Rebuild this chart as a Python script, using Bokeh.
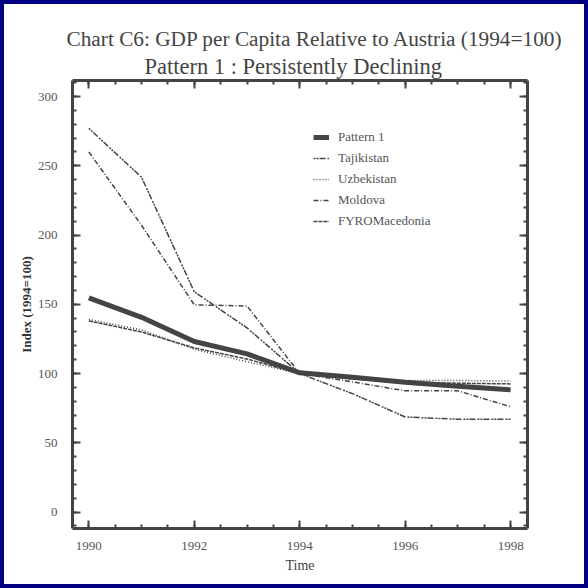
from bokeh.plotting import figure
from bokeh.models import (Range1d, LinearAxis, SingleIntervalTicker, Title, Legend,
                          LegendItem, CustomJSTickFormatter, ColumnDataSource)
from bokeh.embed import file_html
from bokeh.resources import INLINE

years = [1990, 1991, 1992, 1993, 1994, 1995, 1996, 1997, 1998]
pattern1 = [154.7, 140.6, 123.1, 114.2, 100.5, 97.3, 93.7, 90.8, 88.2]
tajikistan = [277.0, 241.7, 159.0, 133.0, 100.0, 85.5, 68.6, 67.0, 67.0]
uzbekistan = [139.0, 131.5, 117.5, 108.5, 100.0, 97.0, 95.0, 95.0, 94.5]
moldova = [260.0, 207.0, 149.6, 148.8, 100.0, 94.0, 87.5, 87.5, 76.0]
fyromacedonia = [138.0, 130.0, 118.5, 110.5, 100.0, 96.0, 94.0, 93.0, 92.5]

series_names = ["Pattern 1", "Tajikistan", "Uzbekistan", "Moldova", "FYROMacedonia"]
series_values = [pattern1, tajikistan, uzbekistan, moldova, fyromacedonia]

title_line1 = "Chart C6: GDP per Capita Relative to Austria (1994=100)"
title_line2 = "Pattern 1 : Persistently Declining"
x_label = "Time"
y_label = "Index (1994=100)"

FONT = "Liberation Serif"
AX = "#444444"
TXT = "#555555"

p = figure(width=588, height=588, output_backend="svg", toolbar_location=None,
           x_range=Range1d(1989.69, 1998.32), y_range=Range1d(-11.9, 311.6),
           min_border_left=68, min_border_right=65, min_border_top=76, min_border_bottom=64,
           background_fill_color="white", border_fill_color="white")
p.styles = {"border": "4px solid #000080", "box-sizing": "border-box"}
p.outline_line_color = None
p.grid.visible = False

def style_axis(ax, labels=True):
    ax.axis_line_color = AX
    ax.axis_line_width = 3
    ax.major_tick_line_color = AX
    ax.major_tick_line_width = 2
    ax.minor_tick_line_color = AX
    ax.minor_tick_line_width = 2
    ax.major_tick_in = 8
    ax.major_tick_out = 0
    ax.minor_tick_in = 4
    ax.minor_tick_out = 0
    ax.major_label_text_font = FONT
    ax.major_label_text_font_size = "13px"
    ax.major_label_text_color = TXT
    ax.axis_label_text_font = FONT
    ax.axis_label_text_color = "#444444"
    ax.axis_label_text_font_style = "normal"
    if not labels:
        ax.formatter = CustomJSTickFormatter(code="return ''")
        ax.major_label_standoff = 0

xt = SingleIntervalTicker(interval=2, num_minor_ticks=4)
yt = SingleIntervalTicker(interval=50, num_minor_ticks=5)

p.xaxis.ticker = xt
p.yaxis.ticker = yt
for ax in p.xaxis:
    style_axis(ax)
    ax.axis_label = x_label
    ax.axis_label_text_font_size = "14px"
    ax.major_label_standoff = 13
    ax.axis_label_standoff = 5
for ax in p.yaxis:
    style_axis(ax)
    ax.axis_label = y_label
    ax.axis_label_text_font_size = "13px"
    ax.axis_label_text_font_style = "bold"
    ax.axis_label_text_color = "#333333"
    ax.major_label_standoff = 15
    ax.axis_label_standoff = 1

right = LinearAxis(ticker=SingleIntervalTicker(interval=50, num_minor_ticks=5))
style_axis(right, labels=False)
p.add_layout(right, "right")
top = LinearAxis(ticker=SingleIntervalTicker(interval=2, num_minor_ticks=4))
style_axis(top, labels=False)
p.add_layout(top, "above")

t2 = Title(text=title_line2, align="left", offset=72, text_font=FONT,
           text_font_size="22.5px", text_font_style="normal", text_color="#444444",
           text_line_height=0.72, standoff=3)
t1 = Title(text=title_line1, align="left", offset=-6, text_font=FONT,
           text_font_size="21.3px", text_font_style="normal", text_color="#444444",
           text_line_height=0.95, standoff=0)
p.add_layout(t2, "above")
p.add_layout(t1, "above")

source = ColumnDataSource(dict(year=years, pattern1=pattern1, tajikistan=tajikistan,
                               uzbekistan=uzbekistan, moldova=moldova,
                               fyromacedonia=fyromacedonia))

styles = [
    ("pattern1", 5, "solid"),
    ("tajikistan", 1.5, "2 1 2 1 6 2"),
    ("uzbekistan", 1.5, "1 2"),
    ("moldova", 1.5, "5 2 1 2"),
    ("fyromacedonia", 1.5, "4 1"),
]
items = []
for name, (col, lw, dash) in zip(series_names, styles):
    r = p.line("year", col, source=source, line_color="#444444", line_width=lw,
               line_dash=dash)
    items.append(LegendItem(label=name, renderers=[r]))

legend = Legend(items=items, location=(241, 298), padding=0, margin=0,
                border_line_color=None, background_fill_alpha=0,
                label_text_font=FONT, label_text_font_size="13px", label_text_color=TXT,
                glyph_width=16, glyph_height=18, label_height=18, spacing=3,
                label_standoff=9)
p.add_layout(legend, "center")

open("out.html", "w").write(file_html(p, INLINE))
